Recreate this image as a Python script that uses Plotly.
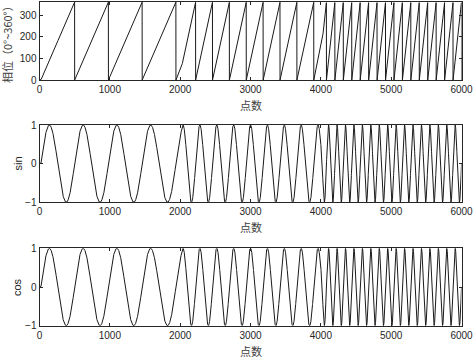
import numpy as np
import plotly.graph_objects as go

# ---- data ----
n_points = 6000                      # 点数
segment_starts = [0, 2000, 4000]     # where the frequency changes
segment_periods = [480, 240, 120]    # samples per 360° in each segment
start_delay = 20                     # phase stays 0 before this sample
x_ticks = [0, 1000, 2000, 3000, 4000, 5000, 6000]
phase_ticks = [0, 100, 200, 300]
trig_ticks = [-1, 0, 1]

# ---- build signals from the read parameters ----
x = np.arange(0, n_points + 1)
t = np.clip(x - start_delay, 0, None).astype(float)
acc = np.zeros_like(t)
for i, (s, p) in enumerate(zip(segment_starts, segment_periods)):
    e = segment_starts[i + 1] if i + 1 < len(segment_starts) else np.inf
    acc += np.clip(t - s, 0, e - s) * 360.0 / p
phase = np.mod(acc, 360.0)
sin_values = np.sin(np.deg2rad(phase))
cos_values = sin_values.copy()   # the lower panel shows the same curve

W, H = 476, 359
def py(px):
    return 1 - px / H

x_dom = [39.5 / W, 461.5 / W]
doms = [[py(80), py(2)], [py(202.3), py(125)], [py(325.7), py(248.3)]]

fig = go.Figure()
line = dict(color="#1a1a1a", width=1)
fig.add_trace(go.Scatter(x=x, y=phase, mode="lines", line=line, xaxis="x", yaxis="y"))
fig.add_trace(go.Scatter(x=x, y=sin_values, mode="lines", line=line, xaxis="x2", yaxis="y2"))
fig.add_trace(go.Scatter(x=x, y=cos_values, mode="lines", line=line, xaxis="x3", yaxis="y3"))

axc = "#262626"
tickfont = dict(family="Liberation Sans, Arial, sans-serif", size=10, color=axc)
common = dict(showline=True, mirror="ticks", linecolor=axc, linewidth=1,
              ticks="inside", ticklen=3, tickcolor=axc, showgrid=False,
              zeroline=False, tickfont=tickfont, automargin=False)

layout = dict(width=W, height=H, margin=dict(l=0, r=0, t=0, b=0),
              paper_bgcolor="white", plot_bgcolor="white", showlegend=False)
for i in range(3):
    sx = "" if i == 0 else str(i + 1)
    layout["xaxis" + sx] = dict(domain=x_dom, range=[0, n_points], tickvals=x_ticks,
                                anchor="y" + sx, **common)
    if i == 0:
        layout["yaxis" + sx] = dict(domain=doms[i], range=[0, 360], tickvals=phase_ticks,
                                    anchor="x" + sx, **common)
    else:
        layout["yaxis" + sx] = dict(domain=doms[i], range=[-1, 1], tickvals=trig_ticks,
                                    anchor="x" + sx, **common)
fig.update_layout(**layout)

cjk = dict(family="Noto Sans CJK SC", size=11, color="#404040")
lat = dict(family="Liberation Sans, Arial, sans-serif", size=11, color=axc)
xt_y = [105, 227, 351]
for yy in xt_y:
    fig.add_annotation(text="点数", x=250.5 / W, y=py(yy), xref="paper", yref="paper",
                       showarrow=False, font=cjk, xanchor="center", yanchor="middle")
fig.add_annotation(text="相位（0°~360°）", x=7 / W, y=py(42), xref="paper", yref="paper",
                   showarrow=False, font=cjk, textangle=-90, xanchor="center", yanchor="middle")
fig.add_annotation(text="sin", x=17 / W, y=py(163.5), xref="paper", yref="paper",
                   showarrow=False, font=lat, textangle=-90, xanchor="center", yanchor="middle")
fig.add_annotation(text="cos", x=17 / W, y=py(287), xref="paper", yref="paper",
                   showarrow=False, font=lat, textangle=-90, xanchor="center", yanchor="middle")

fig.write_html("out.html", config={"displayModeBar": False},
               post_script="document.body.style.margin='0';document.body.style.overflow='hidden';")
